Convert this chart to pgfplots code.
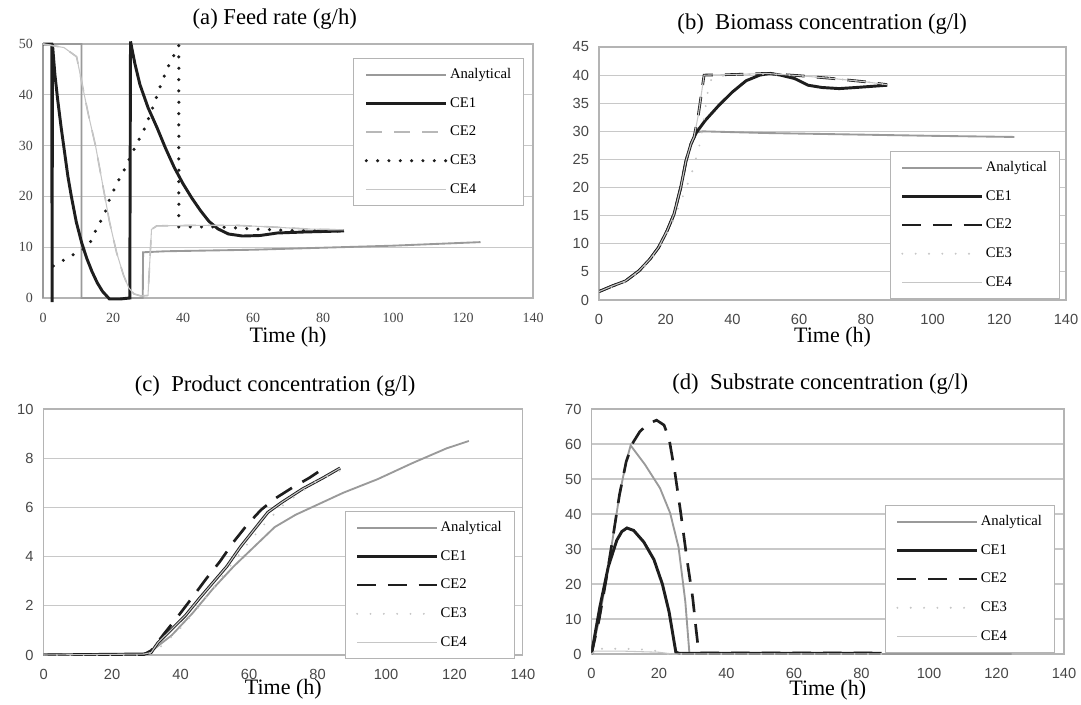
\documentclass[border=0pt]{standalone}
\usepackage{fontspec}
\setmainfont{Liberation Serif}
\setsansfont{Liberation Sans}
\usepackage{pgfplots}
\pgfplotsset{compat=1.18}

\definecolor{gridc}{HTML}{C8C8C8}
\definecolor{framec}{HTML}{B4B4B4}
\definecolor{anal}{HTML}{9A9A9A}
\definecolor{lgray}{HTML}{B8B8B8}
\definecolor{vlgray}{HTML}{C6C6C6}
\definecolor{ink}{HTML}{1E1E1E}

\pgfplotsset{
  excel/.style={
    scale only axis, anchor=south west,
    xmin=0, xmax=140, ymin=0, xtick={0,20,...,140},
    ymajorgrids, grid style={color=gridc, line width=0.9pt},
    axis line style={color=framec, line width=0.8pt},
    major tick length=0pt,
    xticklabel style={yshift=-7.5pt}, yticklabel style={xshift=-4pt},
    tick label style={color=black!72},
    /pgf/number format/assume math mode=true,
    xlabel={Time (h)},
    xlabel style={at={(axis description cs:0.5,0)}, anchor=center, font=\fontsize{16.5}{18}\selectfont},
    title style={anchor=center, font=\fontsize{17}{20}\selectfont},
    legend cell align=left,
    legend style={anchor=north east, draw=framec, line width=0.6pt, fill=white,
      font=\fontsize{11}{13}\selectfont, inner xsep=8pt, inner ysep=6pt, row sep=9pt,
      nodes={inner sep=1.5pt, text height=7.5pt, text depth=2pt}},
    legend image code/.code={\draw[##1] (0pt,0pt) -- (60pt,0pt);},
  },
  serifticks/.style={tick label style={font=\fontsize{10.5}{12}\selectfont}},
  sansticks/.style={tick label style={font=\sffamily\fontsize{11}{13}\selectfont}},
  sAnal/.style={color=anal, line width=1.4pt},
  sCEone/.style={color=ink, line width=2.2pt},
  sCEfour/.style={color=vlgray, line width=0.8pt},
}

\begin{document}
\begin{tikzpicture}
\path[use as bounding box] (0,0) rectangle (810.75pt,528pt);

% (a) feed rate
\begin{axis}[excel, serifticks, at={(32.25pt,304.5pt)}, width=367.5pt, height=190.5pt,
  ymax=50, ytick={0,10,...,50}, clip=false,
  title={(a) Feed rate (g/h)}, title style={at={(axis description cs:0.473,1)}, yshift=12.75pt},
  xlabel style={yshift=-29.25pt},
  legend style={at={(axis description cs:0.982,0.945)}}]
\addplot[sAnal] coordinates {(0,0) (0,50) (11,50) (11,0) (28.5,0) (28.6,9) (35,9.2) (60,9.5) (80,9.9) (100,10.3) (125,11)};
\addlegendentry{Analytical}
\addplot[sCEone] coordinates {(0,50) (2.5,50) (2.6,-0.8) (2.7,50) (3.4,44) (4.2,39) (5.2,33.5) (6.2,28.5) (7.1,24) (8.1,20) (9.5,15) (11,11) (12.5,7.8) (14,5.2) (15.5,3) (17,1.3) (19,-0.2) (22,-0.2) (24.8,0) (25,50.5) (26.3,46) (27.7,42) (30,37.5) (32.6,33.5) (35,29.5) (37.5,25.7) (40,22.5) (42.5,19.7) (45,17.2) (47.4,15.1) (50,13.6) (53,12.6) (57,12.2) (62,12.3) (67,12.8) (75,13) (86,13.2)};
\addlegendentry{CE1}
\addplot[color=lgray, line width=1.2pt, dash pattern=on 12pt off 9pt] coordinates {(0,50) (6,49.3) (9.6,47.5) (11.5,41) (13,36) (15,30) (17,22.5) (19,15) (21,9) (23,4.5) (24.5,2) (26,0.8) (28,0.4) (30,0.5) (31,13.5) (32.5,14.2) (45,14.3) (55,14.3) (65,14) (75,13.6) (86,13.4)};
\addlegendentry{CE2}
\addplot[color=ink, line width=2.6pt, line cap=round, dash pattern=on 0pt off 8.5pt] coordinates {(3,6.3) (7,7.9) (13,10.2) (15,13.2) (17.5,16.4) (19,19.4) (21,22.4) (23.3,25.3) (25.3,28.3) (28.7,32.9) (30.7,36.2) (33.6,41.8) (35.4,45) (36.6,46.7) (38.8,49.7) (38.8,14) (50,14) (60,13.6) (70,13.3) (86,13.2)};
\addlegendentry{CE3}
\addplot[sCEfour] coordinates {(0,50) (6,49.3) (9.6,47.5) (11.5,41) (13,36) (15,30) (17,22.5) (19,15) (21,9) (23,4.5) (24.5,2) (26,0.8) (28,0.4) (30,0.5) (31,13.5) (32.5,14.2) (45,14.3) (55,14.3) (65,14) (75,13.6) (86,13.4)};
\addlegendentry{CE4}
\end{axis}

% (b) biomass
\begin{axis}[excel, sansticks, at={(449.25pt,303pt)}, width=350.25pt, height=189.75pt,
  ymax=45, ytick={0,5,...,45},
  title={(b)\ \ Biomass concentration (g/l)}, title style={at={(axis description cs:0.478,1)}, yshift=11.25pt},
  xlabel style={yshift=-27.75pt},
  legend style={at={(axis description cs:0.987,0.589)}}]
\addplot[sAnal] coordinates {(0,1.5) (4,2.5) (8,3.4) (12,5.2) (15.3,7.3) (17.8,9.3) (20.4,12.3) (22.5,15.3) (24.5,20) (26.1,24.8) (27.6,27.8) (29.2,29.8) (31,30) (50,29.7) (80,29.4) (100,29.2) (124.5,29)};
\addlegendentry{Analytical}
\addplot[sCEone] coordinates {(0,1.5) (4,2.5) (8,3.4) (12,5.2) (15.3,7.3) (17.8,9.3) (20.4,12.3) (22.5,15.3) (24.5,20) (26.1,24.8) (27.6,27.8) (29.2,29.8) (31.8,31.9) (35.9,34.6) (40,37) (44.1,39) (48.2,40) (51.3,40.3) (54.4,40) (58.6,39.4) (62.7,38.2) (66.8,37.8) (72,37.6) (77.1,37.8) (86.4,38.2)};
\addlegendentry{CE1}
\addplot[color=ink, line width=2pt, dash pattern=on 14pt off 9pt] coordinates {(0,1.5) (4,2.5) (8,3.4) (12,5.2) (15.3,7.3) (17.8,9.3) (20.4,12.3) (22.5,15.3) (24.5,20) (26.1,24.8) (27.6,27.8) (28.5,29) (29.8,33) (31.5,40) (40,40.1) (50,40.3) (60,39.9) (70,39.4) (80,38.8) (86.4,38.3)};
\addlegendentry{CE2}
\addplot[color=vlgray, line width=1.6pt, line cap=round, dash pattern=on 0pt off 10pt] coordinates {(0,1.5) (4,2.4) (8,3.3) (12,5) (15.3,7) (17.8,9) (20.4,11.8) (22.5,14.5) (24.5,17.5) (26.5,20.5) (28,23) (29.2,25.5) (30.5,28.4) (31.8,33.7) (32.8,37.9) (33.8,39.4) (38,40) (50,40.2) (60,39.9) (70,39.4) (80,38.8) (86.4,38.3)};
\addlegendentry{CE3}
\addplot[sCEfour] coordinates {(0,1.5) (4,2.5) (8,3.4) (12,5.2) (15.3,7.3) (17.8,9.3) (20.4,12.3) (22.5,15.3) (24.5,20) (26.1,24.8) (27.6,27.8) (28.5,29) (29.8,33) (31.5,40) (40,40.1) (50,40.3) (60,39.9) (70,39.4) (80,38.8) (86.4,38.3)};
\addlegendentry{CE4}
\end{axis}

% (c) product
\begin{axis}[excel, sansticks, at={(32.7pt,36.75pt)}, width=359.5pt, height=184.5pt,
  ymax=10, ytick={0,2,...,10},
  title={(c)\ \ Product concentration (g/l)}, title style={at={(axis description cs:0.483,1)}, yshift=11.25pt},
  xlabel style={yshift=-25.5pt},
  legend style={at={(axis description cs:0.983,0.585)}}]
\addplot[sAnal] coordinates {(0,0) (28,0) (31.4,0.15) (37.4,0.8) (43.5,1.7) (49.5,2.7) (55.5,3.6) (61.5,4.4) (67.5,5.2) (73.6,5.7) (80.6,6.15) (87.6,6.6) (97.6,7.15) (107.7,7.8) (117.7,8.4) (124.2,8.7)};
\addlegendentry{Analytical}
\addplot[sCEone] coordinates {(0,0) (29.4,0.04) (31.4,0.1) (33.4,0.5) (37.4,1.05) (41.4,1.6) (45.5,2.3) (49.5,2.95) (53.5,3.6) (57.5,4.4) (61.5,5.1) (65.5,5.8) (69.5,6.2) (75.6,6.75) (81.6,7.2) (86.6,7.6)};
\addlegendentry{CE1}
\addplot[color=ink, line width=2pt, dash pattern=on 14pt off 9pt] coordinates {(0,0) (29,0) (31.4,0.18) (35.4,0.9) (39.4,1.6) (43.5,2.35) (47.5,3.1) (51.5,3.8) (55.5,4.6) (59.5,5.3) (63.5,5.9) (67.5,6.35) (72.6,6.8) (77.6,7.2) (83,7.7)};
\addlegendentry{CE2}
\addplot[color=vlgray, line width=1.6pt, line cap=round, dash pattern=on 0pt off 10pt] coordinates {(0,0) (30,0) (33,0.2) (36,0.55) (40,1.1) (45,1.9) (50,2.8) (55,3.7) (60,4.6) (65,5.4) (70,6.1) (75,6.6) (80,7.1) (86.6,7.5)};
\addlegendentry{CE3}
\addplot[sCEfour] coordinates {(0,0) (29.4,0.04) (31.4,0.1) (33.4,0.5) (37.4,1.05) (41.4,1.6) (45.5,2.3) (49.5,2.95) (53.5,3.6) (57.5,4.4) (61.5,5.1) (65.5,5.8) (69.5,6.2) (75.6,6.75) (81.6,7.2) (86.6,7.6)};
\addlegendentry{CE4}
\end{axis}

% (d) substrate
\begin{axis}[excel, sansticks, at={(443.6pt,37.5pt)}, width=354.4pt, height=183.75pt,
  ymax=70, ytick={0,10,...,70},
  title={(d)\ \ Substrate concentration (g/l)}, title style={at={(axis description cs:0.484,1)}, yshift=12.75pt},
  xlabel style={yshift=-27pt},
  legend style={at={(axis description cs:0.981,0.608)}}]
\addplot[sAnal] coordinates {(0,0) (2.3,10) (4.3,21) (6.3,33) (8.3,45.5) (10.3,55) (11.6,59.6) (15.8,54.2) (20.3,47.4) (23.3,40.3) (25.8,30.5) (27.8,15) (29,0.4) (30,0) (124.5,0)};
\addlegendentry{Analytical}
\addplot[sCEone] coordinates {(0,0) (2.5,13.5) (5,25) (7.5,32.5) (9,35) (10.5,36) (12.5,35.3) (15.5,32) (18.5,27) (21,20) (23,12) (25,0.5) (26,0.2) (86,0.2)};
\addlegendentry{CE1}
\addplot[color=ink, line width=2pt, dash pattern=on 14pt off 9pt] coordinates {(0,0) (2.3,10) (4.3,21) (6.3,33) (8.3,45.5) (10.3,55) (12.3,60.4) (14.3,63.5) (16.8,65.8) (19.3,66.8) (21.5,65.4) (23,61.5) (24.7,52) (26.5,40) (28.3,27) (30,16) (31,7) (31.8,0.3) (86,0.3)};
\addlegendentry{CE2}
\addplot[color=vlgray, line width=1.6pt, line cap=round, dash pattern=on 0pt off 10pt] coordinates {(0,0) (1,1.5) (5,1.5) (10,1.5) (15,1.3) (20,0.8) (22,0) (86,0)};
\addlegendentry{CE3}
\addplot[sCEfour] coordinates {(0,0) (1,0.8) (10,0.8) (20,0.5) (24,0) (86,0)};
\addlegendentry{CE4}
\end{axis}
\end{tikzpicture}
\end{document}
